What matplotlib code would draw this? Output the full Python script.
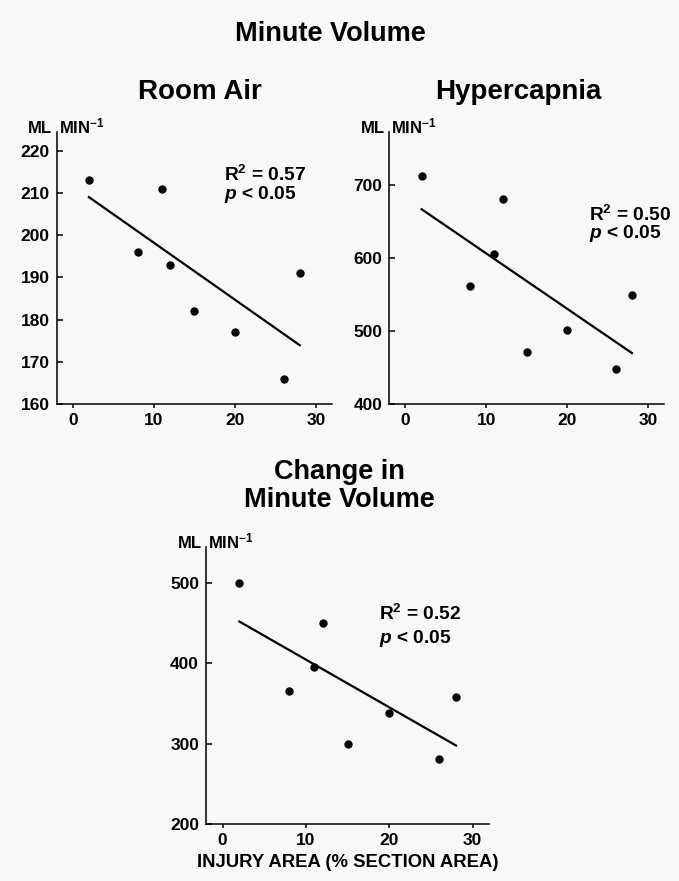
import numpy as np
import matplotlib
matplotlib.use("Agg")
import matplotlib.pyplot as plt

plt.rcParams['font.family'] = ['Liberation Sans', 'DejaVu Sans']
plt.rcParams['font.weight'] = 'bold'
plt.rcParams['mathtext.fontset'] = 'custom'
plt.rcParams['mathtext.rm'] = 'Liberation Sans:bold'
plt.rcParams['mathtext.bf'] = 'Liberation Sans:bold'
plt.rcParams['mathtext.it'] = 'Liberation Sans:italic:bold'

# injury area (% section area), same animals in every panel
injury = [2, 8, 11, 12, 15, 20, 26, 28]

room_air = [213, 196, 211, 193, 182, 177, 166, 191]
hypercapnia = [713, 562, 605, 681, 471, 502, 448, 549]
change = [500, 366, 395, 450, 300, 338, 281, 358]

room_stats = ("0.57", "0.05")
hyper_stats = ("0.50", "0.05")
change_stats = ("0.52", "0.05")

W, H = 679, 881
BG = '#f8f8f8'


def px_axes(fig, left, top, width, height):
    # box given in pixels from the top-left corner
    return fig.add_axes([left / W, 1 - (top + height) / H, width / W, height / H])


def panel(ax, y, ylim, yticks, stats, txt_x, txt_y1, txt_y2):
    ax.set_facecolor(BG)
    ax.plot(injury, y, 'o', color='black', markersize=5)
    k, b = np.polyfit(injury, y, 1)
    xs = np.array([injury[0], injury[-1]])
    ax.plot(xs, k * xs + b, color='black', lw=1.6)

    ax.set_xlim(-2, 32)
    ax.set_ylim(*ylim)
    ax.set_xticks([0, 10, 20, 30])
    ax.set_yticks(yticks)
    for s in ['top', 'right']:
        ax.spines[s].set_visible(False)
    for s in ['left', 'bottom']:
        ax.spines[s].set_linewidth(1.1)
    ax.tick_params(axis='y', direction='in', length=4, width=1.1, pad=5, labelsize=12.5)
    ax.tick_params(axis='x', direction='out', length=3, width=1.1, pad=3.5, labelsize=12.5)
    for lab in ax.get_xticklabels() + ax.get_yticklabels():
        lab.set_fontweight('bold')

    ax.text(txt_x, txt_y1, r'R$^{2}$ = ' + stats[0], fontsize=13.8, fontweight='bold', va='baseline')
    ax.text(txt_x, txt_y2, r'$p$ < ' + stats[1], fontsize=13.8, fontweight='bold', va='baseline')

    ax.annotate('ML', xy=(0, 1), xycoords='axes fraction', xytext=(-3, -1),
                textcoords='offset points', ha='right', va='baseline',
                fontsize=12, fontweight='bold')
    ax.annotate(r'MIN$^{-1}$', xy=(0, 1), xycoords='axes fraction', xytext=(1.5, -1),
                textcoords='offset points', ha='left', va='baseline',
                fontsize=12, fontweight='bold')


fig = plt.figure(figsize=(W / 100, H / 100), dpi=100)
fig.patch.set_facecolor(BG)

ax1 = px_axes(fig, 56.5, 131.7, 275.7, 272.3)
panel(ax1, room_air, (160, 224.5), [160, 170, 180, 190, 200, 210, 220],
      room_stats, 18.6, 212.9, 208.5)

ax2 = px_axes(fig, 389.3, 131.7, 275.0, 272.3)
panel(ax2, hypercapnia, (400, 773), [400, 500, 600, 700],
      hyper_stats, 22.7, 650.7, 627)

ax3 = px_axes(fig, 206.0, 546.7, 283.3, 277.6)
panel(ax3, change, (200, 545), [200, 300, 400, 500],
      change_stats, 18.8, 453.7, 424.7)
ax3.set_xlabel('INJURY AREA (% SECTION AREA)', fontsize=13.3, fontweight='bold', labelpad=4)

fig.text(330 / W, 1 - 34 / H, 'Minute Volume', ha='center', va='center',
         fontsize=19.5, fontweight='bold')
fig.text(200 / W, 1 - 92 / H, 'Room Air', ha='center', va='center',
         fontsize=20, fontweight='bold')
fig.text(518 / W, 1 - 92 / H, 'Hypercapnia', ha='center', va='center',
         fontsize=20, fontweight='bold')
fig.text(339 / W, 1 - 486 / H, 'Change in\nMinute Volume', ha='center', va='center',
         fontsize=19.5, fontweight='bold', linespacing=1.1)

fig.savefig('out.png', dpi=100, facecolor=BG)
